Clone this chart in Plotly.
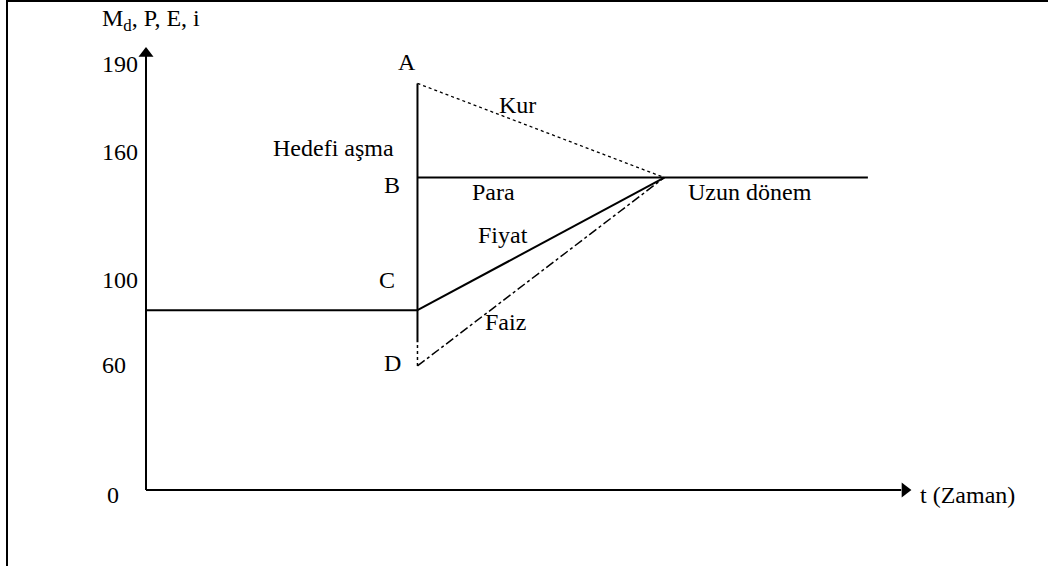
import plotly.graph_objects as go

# ---- schematic data (time units, level units) ----
t_shock = 11.0
t_conv = 21.0
t_end = 29.25
t_axis_end = 31.0
level_axis_top = 207.0

level_A = 190.0   # exchange rate overshoot
level_B = 146.0   # new long-run level (money)
level_C = 84.0    # initial level / price
level_D = 58.0    # interest rate dip
level_gap = 69.0  # end of solid vertical drop

tick_labels = ["190", "160", "100", "60", "0"]
tick_levels = [199.0, 158.0, 98.0, 58.5, -2.3]
tick_x = [-1.05, -1.05, -1.05, -1.3, -1.35]

point_labels = ["A", "B", "C", "D"]
point_x = [10.58, 9.97, 9.76, 10.0]
point_y = [200.0, 142.5, 98.0, 59.3]

curve_labels = ["Hedefi aşma", "Kur", "Para", "Fiyat", "Faiz", "Uzun dönem"]
curve_x = [7.58, 15.07, 14.06, 14.47, 14.55, 24.47]
curve_y = [159.8, 179.9, 139.3, 119.2, 78.5, 139.3]

FONT = dict(family="Liberation Serif, Times New Roman, serif", size=24, color="black")

fig = go.Figure()

def seg(xs, ys, width=2, dash="solid"):
    fig.add_trace(go.Scatter(x=xs, y=ys, mode="lines",
                             line=dict(color="black", width=width, dash=dash),
                             hoverinfo="skip", showlegend=False))

# axes
seg([0, 0], [0, level_axis_top - 4], width=2)
seg([0, t_axis_end - 0.4], [0, 0], width=2)
# arrow heads on the axes
fig.add_trace(go.Scatter(x=[0], y=[level_axis_top - 3], mode="markers",
                         marker=dict(symbol="triangle-up", size=13, color="black"),
                         hoverinfo="skip", showlegend=False))
fig.add_trace(go.Scatter(x=[t_axis_end - 0.25], y=[0], mode="markers",
                         marker=dict(symbol="triangle-right", size=13, color="black"),
                         hoverinfo="skip", showlegend=False))
# initial level
seg([0, t_shock], [level_C, level_C], width=2)
# vertical jump line
seg([t_shock, t_shock], [level_gap, level_A], width=2)
seg([t_shock, t_shock], [level_D, level_gap], width=1.5, dash="dot")
# money (B) long-run line
seg([t_shock, t_end], [level_B, level_B], width=2)
# exchange rate (dotted)
seg([t_shock, t_conv], [level_A, level_B], width=1.3, dash="dot")
# price (solid)
seg([t_shock, t_conv], [level_C, level_B], width=2)
# interest (dash-dot)
seg([t_shock, t_conv], [level_D, level_B], width=1.5, dash="dashdot")

ann = []
ann.append(dict(x=-1.86, y=219.6, xref="x", yref="y", text="M<sub>d</sub>, P, E, i",
                showarrow=False, xanchor="left", yanchor="middle", font=FONT))
for lab, lx, ly in zip(tick_labels, tick_x, tick_levels):
    ann.append(dict(x=lx, y=ly, xref="x", yref="y", text=lab, showarrow=False,
                    xanchor="center", yanchor="middle", font=FONT))
for lab, lx, ly in zip(point_labels, point_x, point_y):
    ann.append(dict(x=lx, y=ly, xref="x", yref="y", text=lab, showarrow=False,
                    xanchor="center", yanchor="middle", font=FONT))
for lab, lx, ly in zip(curve_labels, curve_x, curve_y):
    ann.append(dict(x=lx, y=ly, xref="x", yref="y", text=lab, showarrow=False,
                    xanchor="center", yanchor="middle", font=FONT))
ann.append(dict(x=31.28, y=-2.3, xref="x", yref="y", text="t (Zaman)", showarrow=False,
                xanchor="left", yanchor="middle", font=FONT))

fig.update_layout(
    width=1048, height=566,
    margin=dict(l=0, r=0, t=0, b=0),
    paper_bgcolor="white", plot_bgcolor="white",
    xaxis=dict(range=[-146 / 24.68, (1048 - 146) / 24.68], visible=False, fixedrange=True),
    yaxis=dict(range=[-76 / 2.14, 490 / 2.14], visible=False, fixedrange=True),
    annotations=ann,
    shapes=[
        dict(type="line", xref="paper", yref="paper", x0=7 / 1048, x1=7 / 1048, y0=0, y1=1,
             line=dict(color="black", width=2)),
        dict(type="line", xref="paper", yref="paper", x0=7 / 1048, x1=1, y0=1 - 1 / 566, y1=1 - 1 / 566,
             line=dict(color="black", width=2)),
    ],
    showlegend=False,
)

fig.write_html("out.html", config={"displayModeBar": False, "staticPlot": True},
               post_script="document.body.style.margin='0px';document.body.style.overflow='hidden';")
